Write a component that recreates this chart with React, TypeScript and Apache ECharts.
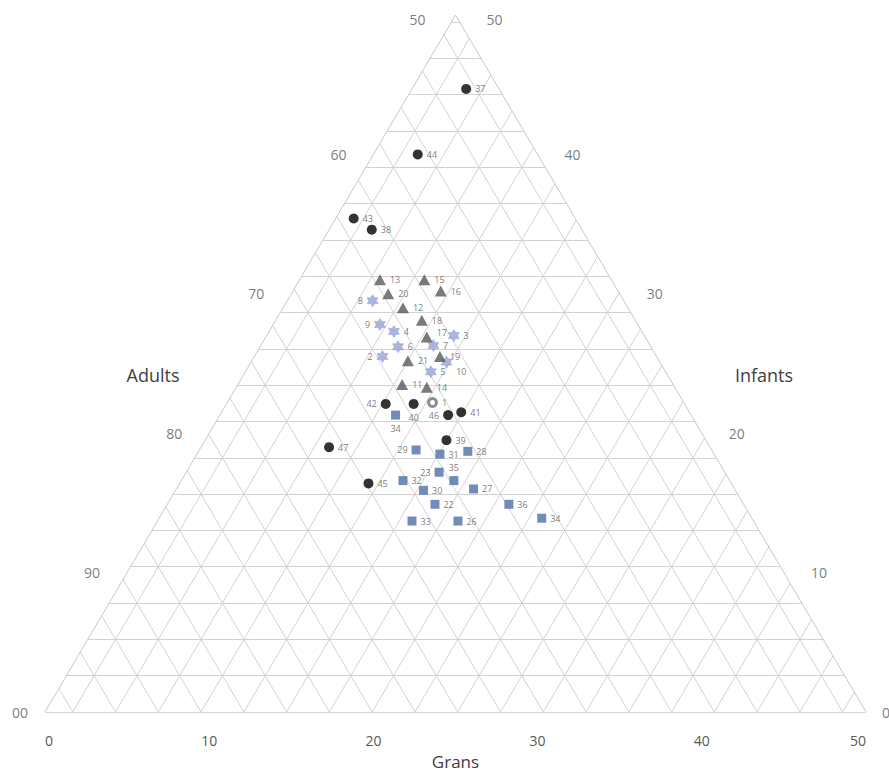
import React, { useEffect, useRef } from "react";
import * as echarts from "echarts";

// ---------- data (ternary: Grans + Infants given, Adults = 100 - Grans - Infants) ----------
const circleIds = ["37", "44", "43", "38", "42", "40", "46", "41", "39", "47", "45"];
const circleGrans = [3.3, 2.7, 1.1, 2.6, 9.7, 11.4, 13.9, 14.6, 14.7, 7.8, 11.5];
const circleInfants = [44.7, 40.0, 35.4, 34.6, 22.1, 22.1, 21.3, 21.5, 19.5, 19.0, 16.4];
const circleLabelSide = ["right", "right", "right", "right", "left", "bottom", "left", "right", "right", "right", "right"];

const ringIds = ["1"];
const ringGrans = [12.5];
const ringInfants = [22.2];
const ringLabelSide = ["right"];

const triangleIds = ["13", "15", "20", "16", "12", "18", "17", "19", "21", "11", "14"];
const triangleGrans = [4.9, 7.6, 5.9, 9.0, 7.3, 8.9, 9.8, 11.3, 9.5, 10.0, 11.6];
const triangleInfants = [31.0, 31.0, 30.0, 30.2, 29.0, 28.1, 26.9, 25.5, 25.2, 23.5, 23.3];
const triangleLabelSide = ["right", "right", "right", "right", "right", "right", "upper-right", "right", "right", "right", "right"];

const starIds = ["8", "9", "4", "3", "6", "7", "2", "10", "5"];
const starGrans = [5.2, 6.5, 7.6, 11.4, 8.4, 10.5, 7.8, 11.9, 11.3];
const starInfants = [29.5, 27.8, 27.3, 27.0, 26.2, 26.3, 25.5, 25.1, 24.4];
const starLabelSide = ["left", "left", "right", "right", "right", "right", "left", "lower-right", "right"];

const squareIds = ["34", "29", "31", "28", "23", "35", "32", "30", "27", "22", "36", "33", "26", "34"];
const squareGrans = [10.7, 13.2, 14.8, 16.4, 15.4, 16.6, 13.5, 15.1, 18.1, 16.3, 20.8, 15.5, 18.3, 23.3];
const squareInfants = [21.3, 18.8, 18.5, 18.7, 17.2, 16.6, 16.6, 15.9, 16.0, 14.9, 14.9, 13.7, 13.7, 13.9];
const squareLabelSide = ["bottom", "left", "right", "right", "left", "top", "right", "right", "right", "right", "right", "right", "right", "right"];

// tick labels
const gransTicks = [0, 10, 20, 30, 40, 50];
const adultsTicks = [50, 60, 70, 80, 90, 100];
const adultsTickLabels = ["50", "60", "70", "80", "90", "00"];
const infantsTicks = [50, 40, 30, 20, 10, 0];
const infantsTickLabels = ["50", "40", "30", "20", "10", "0"];

// ---------- layout constants ----------
const FONT = "'Open Sans', 'DejaVu Sans', sans-serif";
const GRID_STEP = 2.605;
const GRID_OFFSET = 1.69;
const STAR_PATH =
  "path://M0,-10L2.89,-5L8.66,-5L5.77,0L8.66,5L2.89,5L0,10L-2.89,5L-8.66,5L-5.77,0L-8.66,-5L-2.89,-5Z";

const toXY = (g: number, i: number) => [g + i / 2, i];

function sideToLabel(side: string) {
  if (side === "upper-right") return { position: "right", offset: [0, -5] };
  if (side === "lower-right") return { position: "right", offset: [0, 9] };
  return { position: side };
}

function pointData(ids: string[], gs: number[], is: number[], sides: string[]) {
  return ids.map((id, k) => ({
    name: id,
    value: toXY(gs[k], is[k]),
    label: sideToLabel(sides[k]),
  }));
}

function gridSegments() {
  const segs: any[] = [];
  for (let k = 0; k * GRID_STEP < 50; k++) {
    const i = k * GRID_STEP;
    segs.push({ coords: [[i / 2, i], [50 - i / 2, i]] });
  }
  for (let n = 0; GRID_OFFSET + n * GRID_STEP < 50; n++) {
    const x0 = GRID_OFFSET + n * GRID_STEP;
    segs.push({ coords: [[x0, 0], [x0 + (50 - x0) / 2, 50 - x0]] });
    segs.push({ coords: [[x0, 0], [x0 / 2, x0]] });
  }
  return segs;
}

const outline = [
  { coords: [[0, 0], [50, 0]] },
  { coords: [[50, 0], [25, 50]] },
  { coords: [[25, 50], [0, 0]] },
];

const pointLabel = {
  show: true,
  formatter: (p: any) => p.name,
  fontSize: 9,
  color: "#595959",
  fontFamily: FONT,
  distance: 4,
};

export default function App() {
  const ref = useRef<HTMLDivElement>(null);
  useEffect(() => {
    if (!ref.current) return;
    const chart = echarts.init(ref.current, undefined, { renderer: "svg" });
    const tickLabelStyle = { fontSize: 14, color: "#595959", fontFamily: FONT };
    const option: any = {
      animation: false,
      backgroundColor: "#ffffff",
      grid: { left: 45, top: 15, width: 821, height: 699, containLabel: false },
      xAxis: {
        type: "value",
        min: gransTicks[0],
        max: gransTicks[gransTicks.length - 1],
        interval: 10,
        axisLine: { show: false },
        axisTick: { show: false },
        splitLine: { show: false },
        axisLabel: { ...tickLabelStyle, margin: 21, alignMinLabel: "left", alignMaxLabel: "right" },
        name: "Grans",
        nameLocation: "middle",
        nameGap: 41,
        nameTextStyle: { fontSize: 17, color: "#404040", fontFamily: FONT },
      },
      yAxis: { type: "value", min: 0, max: 50, show: false },
      graphic: [
        {
          type: "text",
          x: 153,
          y: 375,
          style: { text: "Adults", fontSize: 18, fill: "#404040", fontFamily: FONT, textAlign: "center", textVerticalAlign: "middle" },
        },
        {
          type: "text",
          x: 764,
          y: 375,
          style: { text: "Infants", fontSize: 18, fill: "#404040", fontFamily: FONT, textAlign: "center", textVerticalAlign: "middle" },
        },
      ],
      series: [
        {
          type: "lines",
          coordinateSystem: "cartesian2d",
          silent: true,
          z: 1,
          lineStyle: { color: "#d2d2d2", width: 1, opacity: 1 },
          data: gridSegments(),
        },
        {
          type: "lines",
          coordinateSystem: "cartesian2d",
          silent: true,
          z: 2,
          lineStyle: { color: "#c8c8c8", width: 1, opacity: 1 },
          data: outline,
        },
        {
          type: "scatter",
          name: "Adults ticks",
          symbolSize: 0,
          silent: true,
          z: 3,
          data: adultsTicks.map((a, k) => ({
            name: adultsTickLabels[k],
            value: toXY(0, 100 - a),
            label: {
              distance: a === 100 ? 17 : a === 50 ? 30 : 27,
              offset: a === 50 ? [0, 4] : [0, 0],
            },
          })),
          label: { show: true, position: "left", formatter: (p: any) => p.name, ...tickLabelStyle },
        },
        {
          type: "scatter",
          name: "Infants ticks",
          symbolSize: 0,
          silent: true,
          z: 3,
          data: infantsTicks.map((i, k) => ({
            name: infantsTickLabels[k],
            value: toXY(50 - i, i),
            label: {
              distance: i === 0 ? 16 : i === 50 ? 31 : 27,
              offset: i === 50 ? [0, 4] : [0, 0],
            },
          })),
          label: { show: true, position: "right", formatter: (p: any) => p.name, ...tickLabelStyle },
        },
        {
          type: "scatter",
          name: "Squares",
          symbol: "rect",
          symbolSize: 9,
          z: 5,
          itemStyle: { color: "#4f6fa8" },
          label: pointLabel,
          data: pointData(squareIds, squareGrans, squareInfants, squareLabelSide),
        },
        {
          type: "scatter",
          name: "Stars",
          symbol: STAR_PATH,
          symbolSize: [11, 12],
          z: 5,
          itemStyle: { color: "#97a3d6", borderColor: "#8090c8", borderWidth: 0.5 },
          label: pointLabel,
          data: pointData(starIds, starGrans, starInfants, starLabelSide),
        },
        {
          type: "scatter",
          name: "Triangles",
          symbol: "triangle",
          symbolSize: [12, 11],
          z: 5,
          itemStyle: { color: "#595959" },
          label: pointLabel,
          data: pointData(triangleIds, triangleGrans, triangleInfants, triangleLabelSide),
        },
        {
          type: "scatter",
          name: "Circles",
          symbol: "circle",
          symbolSize: 10,
          z: 5,
          itemStyle: { color: "#000000" },
          label: pointLabel,
          data: pointData(circleIds, circleGrans, circleInfants, circleLabelSide),
        },
        {
          type: "scatter",
          name: "Ring",
          symbol: "circle",
          symbolSize: 8,
          z: 5,
          itemStyle: { color: "#ffffff", borderColor: "#707070", borderWidth: 3 },
          label: pointLabel,
          data: pointData(ringIds, ringGrans, ringInfants, ringLabelSide),
        },
      ],
    };
    chart.setOption(option);
    return () => chart.dispose();
  }, []);
  return (
    <div
      ref={ref}
      style={{ position: "fixed", left: 0, top: 0, width: 889, height: 775, background: "#fff" }}
    />
  );
}
